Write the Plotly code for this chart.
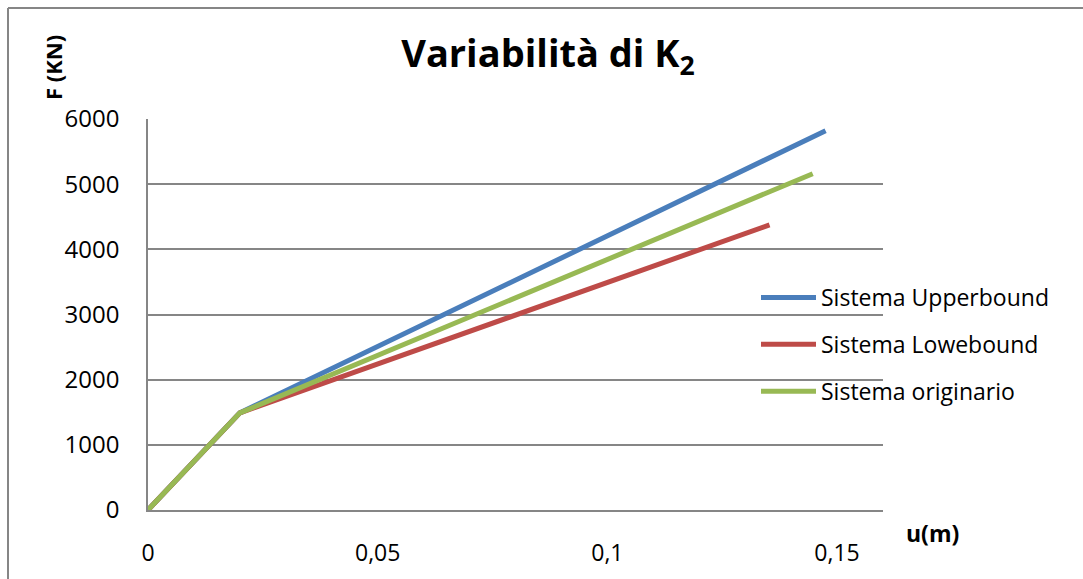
import plotly.graph_objects as go

# Force-displacement curves (u in m, F in kN)
u_upper = [0, 0.02, 0.1475]
F_upper = [0, 1490, 5820]
u_lower = [0, 0.02, 0.1353]
F_lower = [0, 1490, 4375]
u_orig = [0, 0.02, 0.1447]
F_orig = [0, 1490, 5160]

names = ["Sistema Upperbound", "Sistema Lowebound", "Sistema originario"]
colors = ["#4A7EBB", "#BE4B48", "#98B954"]

x_ticks = [0, 0.05, 0.1, 0.15]
x_tick_text = ["0", "0,05", "0,1", "0,15"]
y_ticks = [0, 1000, 2000, 3000, 4000, 5000, 6000]

W, H = 1083, 579
ML, MR, MT, MB = 148, 200, 119, 69
PW, PH = W - ML - MR, H - MT - MB


def px(x):
    return (x - ML) / PW


def py(y):
    return 1 + (MT - y) / PH


FONT = "Open Sans"
GRID = "#868686"

fig = go.Figure()
for i, (u, F) in enumerate([(u_upper, F_upper), (u_lower, F_lower), (u_orig, F_orig)]):
    fig.add_trace(go.Scatter(
        x=u, y=F, mode="lines", name=names[i], legendgroup=str(i),
        line=dict(color=colors[i], width=5),
    ))

fig.update_layout(
    width=W, height=H,
    margin=dict(l=ML, r=MR, t=MT, b=MB, autoexpand=False),
    paper_bgcolor="white", plot_bgcolor="white",
    font=dict(family=FONT, size=23, color="#000000"),
    title=dict(
        text="<b>Variabilità di K<sub>2</sub></b>",
        font=dict(family=FONT, size=38, color="#000000"),
        xref="paper", x=px(548), xanchor="center",
        yref="container", y=1 - 54 / H, yanchor="middle",
    ),
    showlegend=True,
    legend=dict(
        x=px(756), y=py(276), xanchor="left", yanchor="top",
        font=dict(family=FONT, size=23, color="#000000"),
        itemwidth=55, tracegroupgap=14, bgcolor="rgba(0,0,0,0)",
    ),
    xaxis=dict(
        range=[0, 0.16], tickvals=x_ticks, ticktext=x_tick_text,
        showgrid=False, zeroline=False, showline=True, linecolor=GRID, linewidth=1.5,
        ticks="", ticklabelstandoff=22, automargin=False,
        tickfont=dict(family=FONT, size=23),
    ),
    yaxis=dict(
        range=[0, 6000], tickvals=y_ticks,
        showgrid=True, gridcolor=GRID, gridwidth=1.5,
        zeroline=False, showline=True, linecolor=GRID, linewidth=1.5,
        ticks="", ticklabelstandoff=22, automargin=False,
        tickfont=dict(family=FONT, size=24),
    ),
)

fig.add_annotation(
    text="<b>F (KN)</b>", textangle=-90, showarrow=False,
    xref="paper", yref="paper", x=px(53), y=py(68),
    xanchor="center", yanchor="middle",
    font=dict(family=FONT, size=22, color="#000000"),
)
fig.add_annotation(
    text="<b>u(m)</b>", showarrow=False,
    xref="paper", yref="paper", x=px(932), y=py(533),
    xanchor="center", yanchor="middle",
    font=dict(family=FONT, size=23, color="#000000"),
)

# Chart frame (top and left edges)
fig.add_shape(type="line", xref="paper", yref="paper",
              x0=px(8), x1=px(W + 5), y0=py(8), y1=py(8),
              line=dict(color=GRID, width=2))
fig.add_shape(type="line", xref="paper", yref="paper",
              x0=px(8), x1=px(8), y0=py(8), y1=py(H + 5),
              line=dict(color=GRID, width=2))

fig.write_html("out.html")
